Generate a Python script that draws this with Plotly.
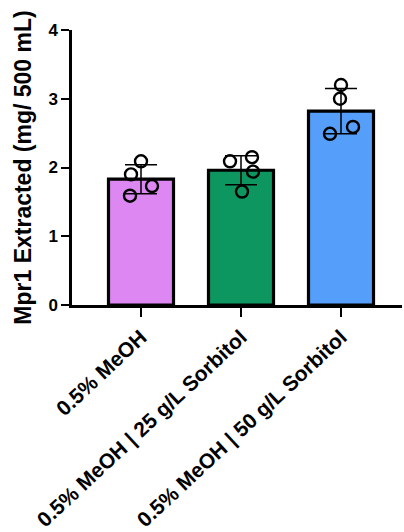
import plotly.graph_objects as go

categories = ["0.5% MeOH", "0.5% MeOH | 25 g/L Sorbitol", "0.5% MeOH | 50 g/L Sorbitol"]
means = [1.83, 1.96, 2.82]
sds = [0.21, 0.21, 0.33]
replicates = [
    [2.09, 1.90, 1.73, 1.59],
    [2.09, 2.15, 1.94, 1.65],
    [3.20, 3.00, 2.59, 2.49],
]
jitter = [
    [0.0, -0.10, 0.11, -0.11],
    [-0.11, 0.11, 0.12, 0.01],
    [0.0, -0.01, 0.12, -0.11],
]
colors = ["#DD88F2", "#0E9660", "#559FFA"]
y_ticks = [0, 1, 2, 3, 4]

FONT = "Liberation Sans, Arial, sans-serif"

fig = go.Figure()
xs = list(range(len(categories)))
fig.add_trace(go.Bar(
    x=xs, y=means, width=0.65,
    marker=dict(color=colors, line=dict(color="black", width=3.2)),
    error_y=dict(type="data", array=sds, visible=True, color="black", thickness=1.5, width=16),
    showlegend=False,
))
for i, vals in enumerate(replicates):
    fig.add_trace(go.Scatter(
        x=[i + j for j in jitter[i]], y=vals, mode="markers",
        marker=dict(symbol="circle-open", size=12, color="black", line=dict(width=2.4)),
        showlegend=False,
    ))

fig.update_layout(
    width=404, height=532,
    margin=dict(l=72, r=2, t=30, b=227),
    plot_bgcolor="white", paper_bgcolor="white",
    font=dict(family=FONT, color="black"),
)
fig.update_xaxes(
    range=[-0.69, 2.61], tickvals=xs, ticktext=categories, tickangle=-43,
    showline=True, linecolor="black", linewidth=2.5, ticks="outside", ticklen=9, tickwidth=2,
    tickcolor="black", showgrid=False, zeroline=False, automargin=False,
    tickfont=dict(family=FONT, size=21, weight="bold", color="black"),
)
fig.update_yaxes(
    range=[0, 4], tickvals=y_ticks,
    showline=True, linecolor="black", linewidth=2.5, ticks="outside", ticklen=8, tickwidth=2,
    tickcolor="black", showgrid=False, zeroline=False, automargin=False,
    tickfont=dict(family=FONT, size=17, weight="bold", color="black"),
    title=dict(text="Mpr1 Extracted (mg/ 500 mL)", standoff=11,
               font=dict(family=FONT, size=23, weight="bold", color="black")),
)
fig.write_html("out.html", config={"displayModeBar": False},
               post_script="document.body.style.margin='0';")
